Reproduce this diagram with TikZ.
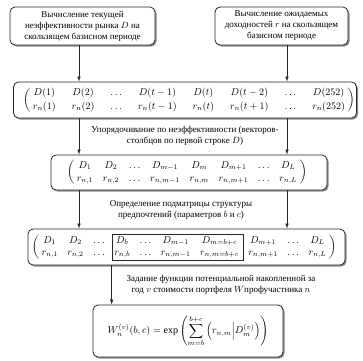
\documentclass[tikz,border=0pt]{standalone}
\usepackage{amsmath}
\usepackage{fontspec}
\setmainfont{Liberation Serif}
\usepackage{tikz}
\usetikzlibrary{positioning, arrows.meta, matrix, fit, shadows}

\begin{document}
\begin{tikzpicture}[
    x=1pt, y=-1pt,
    stepbox/.style={draw=black!85, line width=0.8pt, rounded corners=5pt, fill=white, drop shadow={shadow xshift=1.5pt, shadow yshift=-1.5pt, opacity=0.45, fill=black}},
    txt/.style={font=\fontsize{9}{11}\selectfont, align=center},
    mat/.style={matrix of math nodes, inner sep=0pt, nodes={inner sep=1pt, text height=7pt, text depth=2.5pt}, left delimiter={(}, right delimiter={)}, every left delimiter/.style={xshift=4.5pt}, every right delimiter/.style={xshift=-5pt}},
    subbox/.style={draw=black!85, line width=0.6pt, inner xsep=3pt, inner ysep=1pt},
    arrow/.style={-{Latex[length=5pt, width=3.5pt]}, line width=0.6pt, black!85}
  ]
  \useasboundingbox (0,0) rectangle (363,360);

  % top boxes
  \node[stepbox, txt, minimum width=145pt, minimum height=38pt] (calcD) at (82.5,26) {Вычисление текущей\\неэффективности рынка $D$ на\\скользящем базисном периоде};
  \node[stepbox, txt, minimum width=133pt, minimum height=38pt] (calcR) at (281.5,26) {Вычисление ожидаемых\\доходностей $r$ на скользящем\\базисном периоде};

  % full series
  \node[stepbox, minimum width=343pt, minimum height=36pt] (boxA) at (185,100) {};
  \matrix (matA) [mat, column sep=14pt, row sep=2.5pt, every left delimiter/.style={xshift=8pt}, every right delimiter/.style={xshift=-7.5pt}] at (189,100) {
    D(1) & D(2) & \ldots & D(t-1) & D(t) & D(t-2) & \ldots & D(252) \\
    r_n(1) & r_n(2) & \ldots & r_n(t-1) & r_n(t) & r_n(t+1) & \ldots & r_n(252) \\
  };

  % sorted
  \node[stepbox, minimum width=276pt, minimum height=35pt] (boxB) at (189,172.5) {};
  \matrix (matB) [mat, column sep=7.7pt, row sep=1.5pt] at (187,172.5) {
    D_1 & D_2 & \ldots & D_{m-1} & D_m & D_{m+1} & \ldots & D_L \\
    r_{n,1} & r_{n,2} & \ldots & r_{n,m-1} & r_{n,m} & r_{n,m+1} & \ldots & r_{n,L} \\
  };

  % submatrix
  \node[stepbox, minimum width=317pt, minimum height=36pt] (boxC) at (186.5,247) {};
  \matrix (matC) [mat, column sep=7.5pt, row sep=0.5pt] at (184,247) {
    D_1 & D_2 & \ldots & D_b & \ldots & D_{m-1} & D_{m=b+c} & D_{m+1} & \ldots & D_L \\
    r_{n,1} & r_{n,2} & \ldots & r_{n,b} & \ldots & r_{n,m-1} & r_{n,m=b+c} & r_{n,m+1} & \ldots & r_{n,L} \\
  };
  \node[subbox, fit=(matC-1-4)(matC-2-7)] (sub) {};

  % result
  \node[stepbox, minimum width=190pt, minimum height=52pt] (boxD) at (188,331) {$\displaystyle W_n^{(v)}(b,c)=\exp\left(\sum_{m=b}^{b+c}\left(r_{n,m}\middle|D_m^{(v)}\right)\right)$};

  % step labels
  \node[txt] (sortlbl) at (185,136) {Упорядочивание по неэффективности (векторов-\\столбцов по первой строке $D$)};
  \node[txt] (sublbl) at (181,210) {Определение подматрицы структуры\\предпочтений (параметров $b$ и $c$)};
  \node[txt] (funlbl) at (221,285) {Задание функции потенциальной накопленной за\\год $v$ стоимости портфеля $W$профучастника $n$};

  % arrows
  \coordinate (xl) at (79,0);
  \coordinate (xr) at (287,0);
  \draw[arrow] (calcD.south -| xl) -- (boxA.north -| xl);
  \draw[arrow] (calcR.south -| xr) -- (boxA.north -| xr);
  \foreach \a/\b in {boxA/boxB, boxB/boxC} {
    \draw[arrow] (\a.south -| xl) -- (\b.north -| xl);
    \draw[arrow] (\a.south -| xr) -- (\b.north -| xr);
  }
  \draw[arrow] (boxC.south -| sub.west) -- (boxD.north -| sub.west);

\end{tikzpicture}
\end{document}
